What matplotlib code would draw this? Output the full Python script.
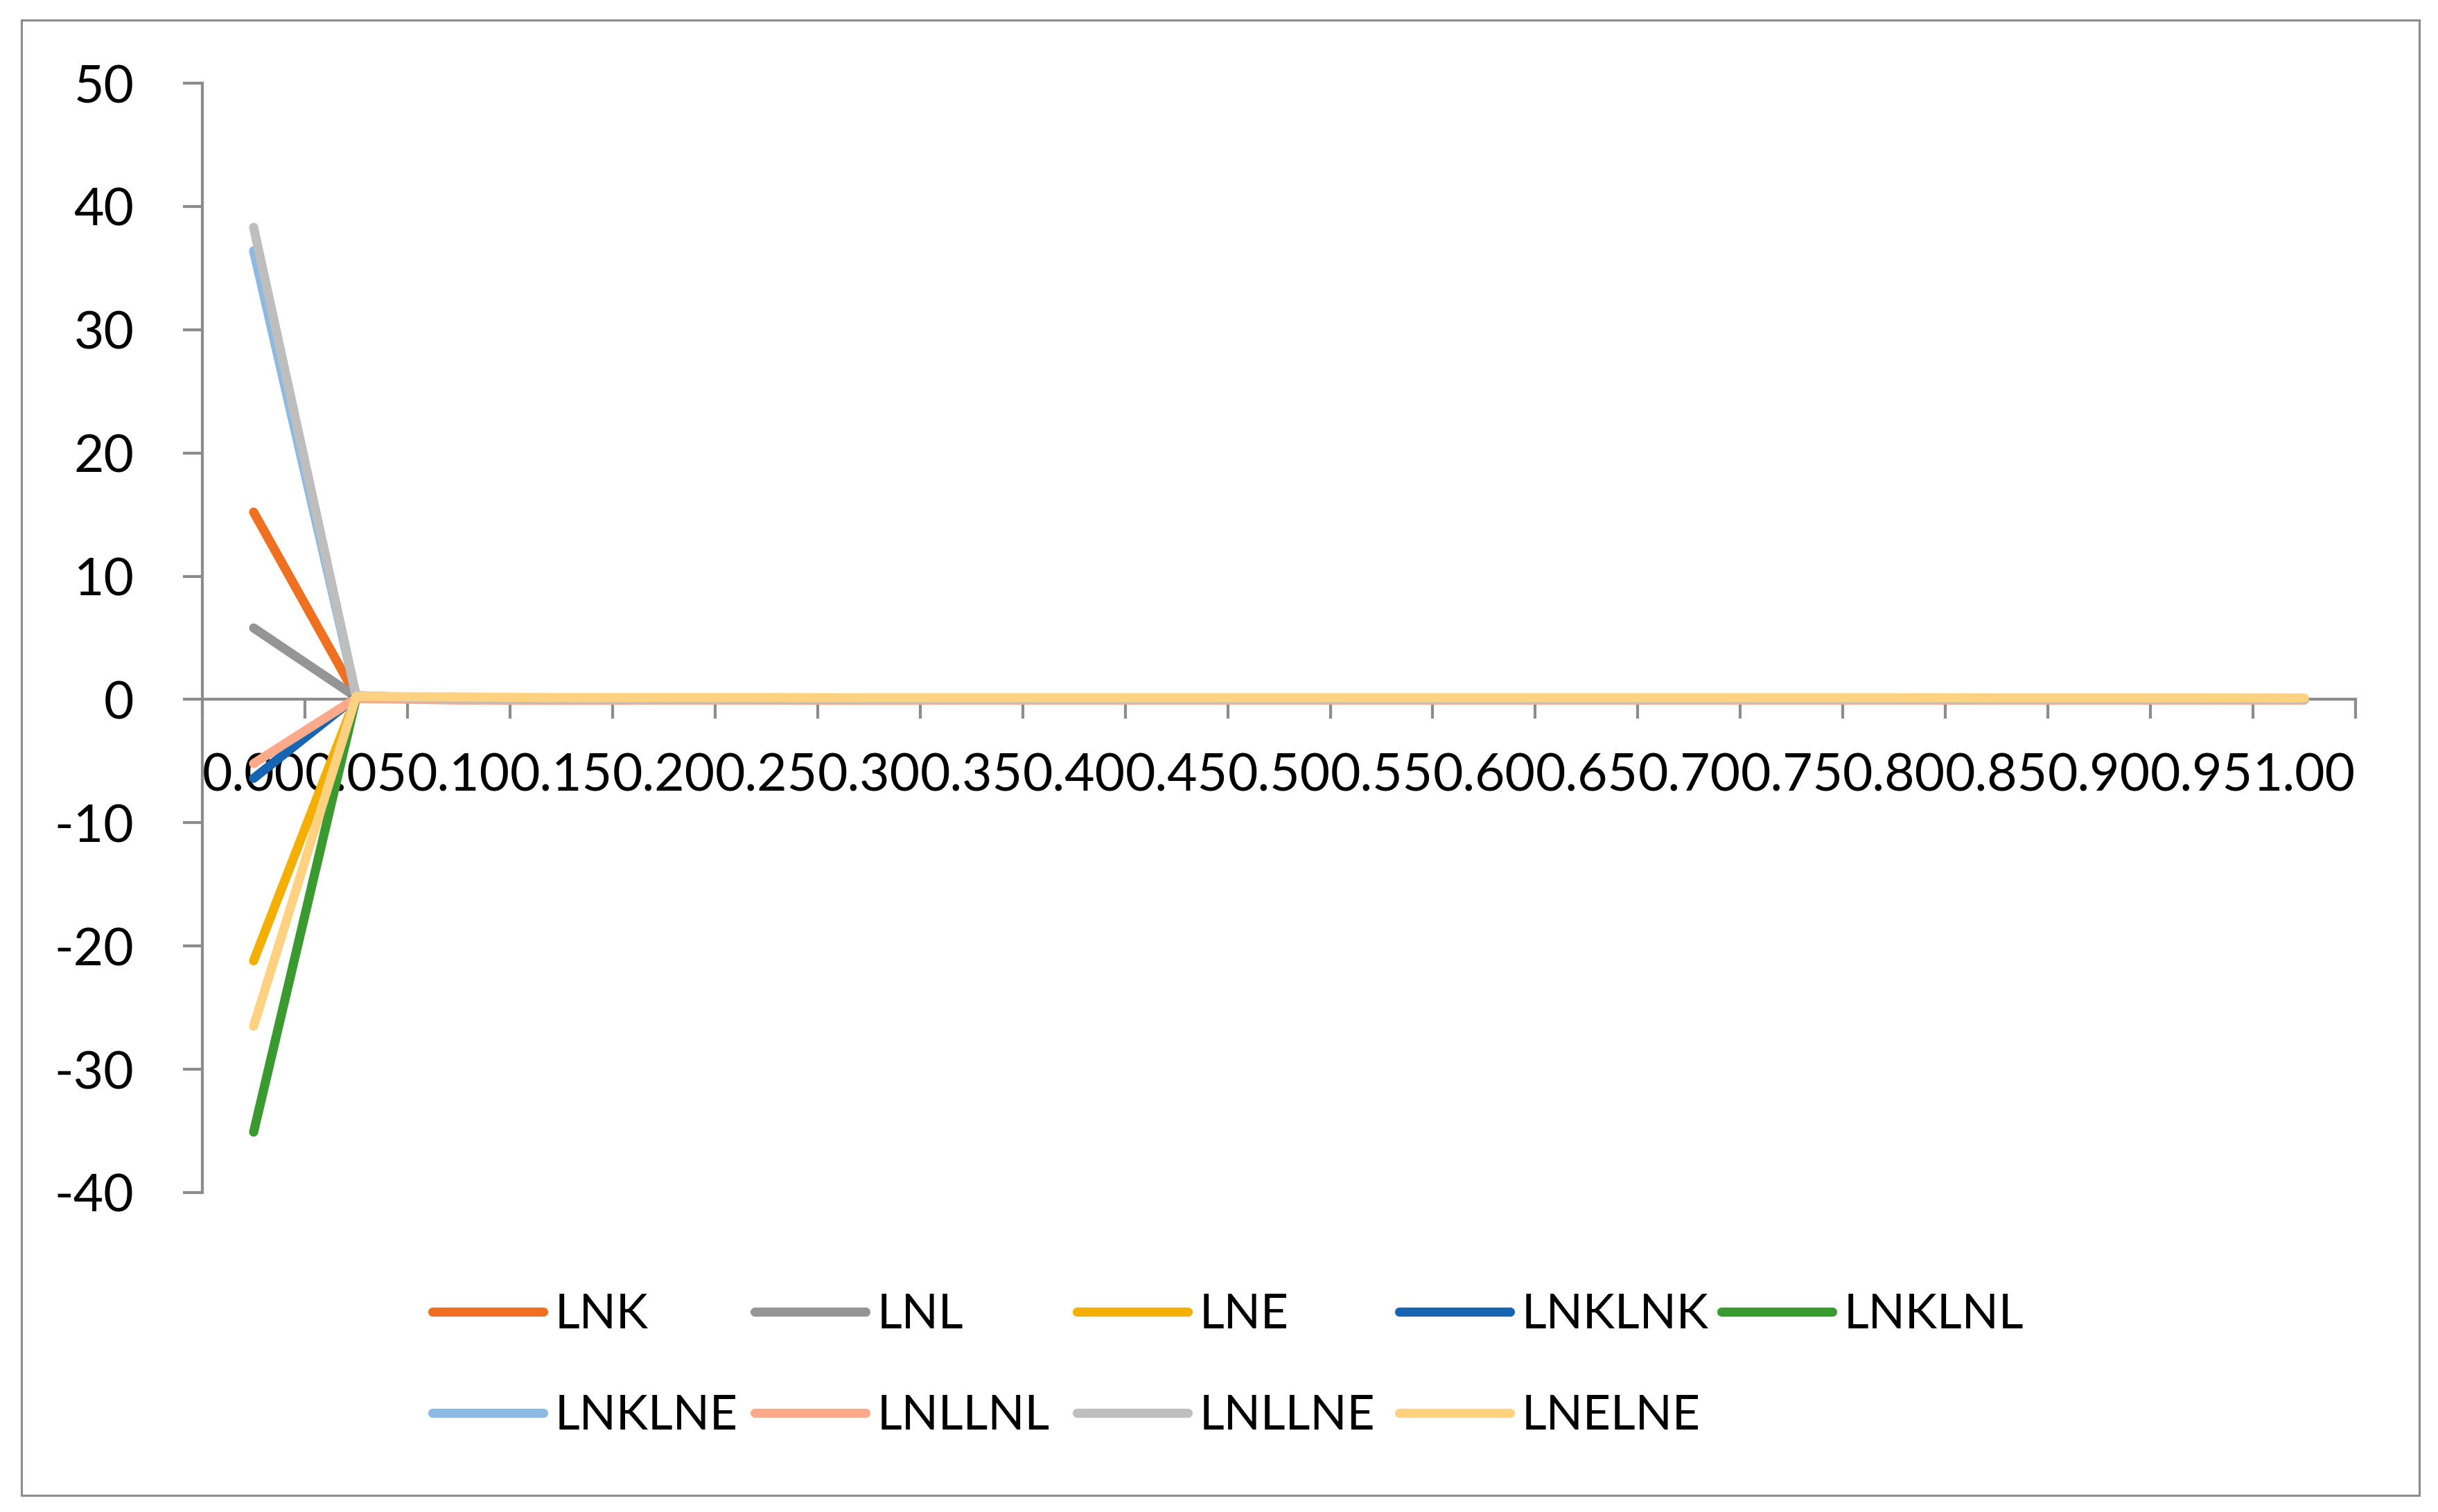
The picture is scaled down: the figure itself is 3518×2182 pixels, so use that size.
import matplotlib
matplotlib.use('Agg')
import matplotlib.pyplot as plt
from matplotlib.patches import Rectangle
import numpy as np

plt.rcParams['font.family'] = ['Lato', 'DejaVu Sans']
plt.rcParams['axes.unicode_minus'] = False

# Категории по оси X
categories = ['0.00', '0.05', '0.10', '0.15', '0.20', '0.25', '0.30', '0.35', '0.40', '0.45',
              '0.50', '0.55', '0.60', '0.65', '0.70', '0.75', '0.80', '0.85', '0.90', '0.95', '1.00']

# Значения рядов
lnk = [15.2, 0.3, 0.05, 0.04, 0.03, 0.03, 0.02, 0.02, 0.02, 0.02, 0.02,
       0.02, 0.02, 0.02, 0.02, 0.02, 0.02, 0.02, 0.02, 0.02, 0.02]
lnl = [5.8, 0.2, 0.03, 0.02, 0.02, 0.02, 0.02, 0.02, 0.02, 0.02, 0.02,
       0.02, 0.02, 0.02, 0.02, 0.02, 0.02, 0.02, 0.02, 0.02, 0.02]
lne = [-21.2, 0.2, 0.04, 0.03, 0.03, 0.03, 0.03, 0.03, 0.03, 0.03, 0.03,
       0.03, 0.03, 0.03, 0.03, 0.03, 0.03, 0.03, 0.03, 0.03, 0.03]
lnklnk = [-6.4, 0.2, 0.0, 0.0, 0.0, 0.0, 0.0, 0.0, 0.0, 0.0, 0.0,
          0.0, 0.0, 0.0, 0.0, 0.0, 0.0, 0.0, 0.0, 0.0, 0.0]
lnklnl = [-35.1, 0.1, 0.0, 0.0, 0.0, 0.0, 0.0, 0.0, 0.0, 0.0, 0.0,
          0.0, 0.0, 0.0, 0.0, 0.0, 0.0, 0.0, 0.0, 0.0, 0.0]
lnklne = [36.4, 0.3, 0.02, 0.01, 0.01, 0.01, 0.01, 0.01, 0.01, 0.01, 0.01,
          0.01, 0.01, 0.01, 0.01, 0.01, 0.01, 0.01, 0.01, 0.01, 0.01]
lnllnl = [-5.2, 0.1, -0.05, -0.06, -0.05, -0.05, -0.06, -0.05, -0.05, -0.05, -0.05,
          -0.05, -0.05, -0.05, -0.05, -0.05, -0.05, -0.05, -0.05, -0.05, -0.05]
lnllne = [38.3, 0.3, 0.05, 0.03, 0.02, 0.02, 0.02, 0.02, 0.02, 0.02, 0.02,
          0.02, 0.02, 0.02, 0.02, 0.02, 0.02, 0.02, 0.02, 0.02, 0.02]
lnelne = [-26.5, 0.25, 0.2, 0.15, 0.15, 0.15, 0.14, 0.14, 0.14, 0.14, 0.14,
          0.14, 0.14, 0.14, 0.14, 0.14, 0.14, 0.13, 0.13, 0.13, 0.12]

names = ['LNK', 'LNL', 'LNE', 'LNKLNK', 'LNKLNL', 'LNKLNE', 'LNLLNL', 'LNLLNE', 'LNELNE']
series = [lnk, lnl, lne, lnklnk, lnklnl, lnklne, lnllnl, lnllne, lnelne]
colors = ['#EE7020', '#959595', '#F5AF00', '#1565B3', '#3A9A30',
          '#8CBAE2', '#FDAA8C', '#BEBEBE', '#FED281']

axis_gray = '#8C8C8C'

fig = plt.figure(figsize=(35.18, 21.82), dpi=100)
ax = fig.add_axes([0.0830, 0.2113, 0.8832, 0.7337])

x = np.arange(len(categories))
lines = []
for name, vals, c in zip(names, series, colors):
    ln, = ax.plot(x, vals, color=c, linewidth=9.5, label=name,
                  solid_capstyle='round', solid_joinstyle='round', zorder=3)
    lines.append(ln)

ax.set_xlim(-0.5, len(categories) - 0.5)
ax.set_ylim(-40, 50)
ax.set_yticks(range(-40, 51, 10))

# Оси в стиле Excel
ax.spines['top'].set_visible(False)
ax.spines['right'].set_visible(False)
ax.spines['bottom'].set_position(('data', 0))
for s in ['left', 'bottom']:
    ax.spines[s].set_color(axis_gray)
    ax.spines[s].set_linewidth(3)

ax.set_xticks(np.arange(-0.5, len(categories), 1))
ax.set_xticklabels([])
ax.set_xticks(x, minor=True)
ax.set_xticklabels(categories, minor=True)
ax.tick_params(axis='x', which='major', direction='out', length=20, width=3, color=axis_gray)
ax.tick_params(axis='x', which='minor', length=0, pad=55, labelsize=54)
ax.tick_params(axis='y', direction='out', length=20, width=3, color=axis_gray,
               pad=51, labelsize=54)

# Легенда: пять столбцов одинаковой ширины, как в Excel
for j in range(5):
    idx = [i for i in (j, j + 5) if i < len(names)]
    fig.legend([lines[i] for i in idx], [names[i] for i in idx],
               loc='upper left', bbox_to_anchor=((624 + j * 465) / 3518, 1 - 1866 / 2182),
               frameon=False, fontsize=50, handlelength=2.3, handletextpad=0.25,
               labelspacing=1.2, borderpad=0, borderaxespad=0)

# Рамка области диаграммы
fig.patches.append(Rectangle((31 / 3518, 1 - 2158 / 2182), (3491 - 31) / 3518, (2158 - 29) / 2182,
                             transform=fig.transFigure, fill=False,
                             edgecolor=axis_gray, linewidth=2.2))

fig.savefig('out.png', dpi=100)
